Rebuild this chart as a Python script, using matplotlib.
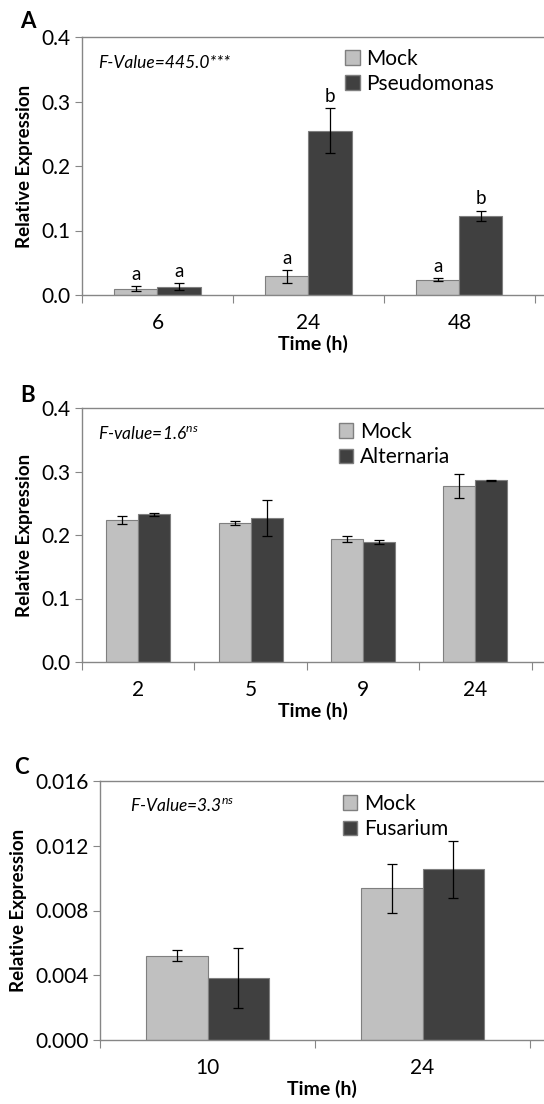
import numpy as np
from matplotlib import pyplot as plt
from matplotlib.patches import Patch

plt.rcParams['font.family'] = ['Lato', 'DejaVu Sans']
plt.rcParams['mathtext.fontset'] = 'custom'
plt.rcParams['mathtext.it'] = 'Lato:italic'
plt.rcParams['mathtext.rm'] = 'Lato'

# panel A - Pseudomonas
times_a = ['6', '24', '48']
mock_a = [0.0098, 0.029, 0.0237]
mock_a_err = [0.004, 0.010, 0.0025]
pseudo_a = [0.013, 0.255, 0.1227]
pseudo_a_err = [0.005, 0.035, 0.008]
letters_mock_a = ['a', 'a', 'a']
letters_pseudo_a = ['a', 'b', 'b']

# panel B - Alternaria
times_b = ['2', '5', '9', '24']
mock_b = [0.2236, 0.2184, 0.1937, 0.2766]
mock_b_err = [0.0058, 0.003, 0.0045, 0.019]
alt_b = [0.2325, 0.2268, 0.1885, 0.286]
alt_b_err = [0.0026, 0.029, 0.0034, 0.0005]

# panel C - Fusarium
times_c = ['10', '24']
mock_c = [0.00522, 0.00937]
mock_c_err = [0.00033, 0.00152]
fus_c = [0.00382, 0.01054]
fus_c_err = [0.00186, 0.00178]

LIGHT = '#c0c0c0'
DARK = '#404040'
EDGE = '#7f7f7f'
SPINE = '#868686'

W, H = 544, 1104
fig = plt.figure(figsize=(W / 100, H / 100), dpi=100)


def px_axes(left, top, right, bottom):
    return fig.add_axes([left / W, 1 - bottom / H, (right - left) / W, (bottom - top) / H])


def panel(ax, labels, mock, mock_err, trt, trt_err, trt_name, ymax, yticks, yfmt,
          xright, ftext, fpos, legpos):
    x = np.arange(len(labels))
    w = 0.285
    ax.bar(x - w / 2, mock, w, color=LIGHT, edgecolor=EDGE, linewidth=0.8, zorder=2)
    ax.bar(x + w / 2, trt, w, color=DARK, edgecolor=EDGE, linewidth=0.8, zorder=2)
    ax.errorbar(x - w / 2, mock, yerr=mock_err, fmt='none', ecolor='black',
                elinewidth=0.9, capsize=3.5, capthick=0.9, zorder=3)
    ax.errorbar(x + w / 2, trt, yerr=trt_err, fmt='none', ecolor='black',
                elinewidth=0.9, capsize=3.5, capthick=0.9, zorder=3)
    ax.set_xlim(-0.5, xright)
    ax.set_ylim(0, ymax)
    ax.set_yticks(yticks)
    ax.set_yticklabels([yfmt.format(v) for v in yticks], fontsize=15)
    ax.set_xticks(np.arange(len(labels) + 1) - 0.5)
    ax.set_xticklabels([])
    ax.set_xticks(x, minor=True)
    ax.set_xticklabels(labels, minor=True, fontsize=15)
    ax.tick_params(axis='x', which='major', length=6, direction='out', color=SPINE)
    ax.tick_params(axis='x', which='minor', length=0, pad=13)
    ax.tick_params(axis='y', length=5, direction='out', color=SPINE, pad=3)
    for s in ['left', 'bottom', 'top']:
        ax.spines[s].set_color(SPINE)
        ax.spines[s].set_linewidth(1.0)
    ax.spines['right'].set_visible(False)
    ax.set_xlabel('Time (h)', fontsize=14, fontweight='bold', labelpad=1)
    ax.set_ylabel('Relative Expression', fontsize=13.5, fontweight='bold', labelpad=6)
    ax.text(fpos[0], fpos[1], ftext, transform=ax.transAxes, fontsize=12.5,
            style='italic', va='center', ha='left')
    handles = [Patch(facecolor=LIGHT, edgecolor=EDGE), Patch(facecolor=DARK, edgecolor=EDGE)]
    ax.legend(handles, ['Mock', trt_name], loc='upper left', bbox_to_anchor=legpos,
              frameon=False, fontsize=15, handlelength=0.7, handleheight=0.7,
              handletextpad=0.3, labelspacing=0.25, borderpad=0, borderaxespad=0)
    return x, w


# A
axA = px_axes(82, 37, 544, 295)
x, w = panel(axA, times_a, mock_a, mock_a_err, pseudo_a, pseudo_a_err, 'Pseudomonas',
             0.4, [0.0, 0.1, 0.2, 0.3, 0.4], '{:.1f}', 2.56,
             'F-Value=445.0***', (0.035, 0.90), (0.57, 0.955))
for i in range(len(times_a)):
    axA.text(x[i] - w / 2, mock_a[i] + mock_a_err[i] + 0.005, letters_mock_a[i],
             ha='center', va='bottom', fontsize=13.5)
    axA.text(x[i] + w / 2, pseudo_a[i] + pseudo_a_err[i] + 0.005, letters_pseudo_a[i],
             ha='center', va='bottom', fontsize=13.5)

# B
axB = px_axes(82, 408, 544, 662)
panel(axB, times_b, mock_b, mock_b_err, alt_b, alt_b_err, 'Alternaria',
      0.4, [0.0, 0.1, 0.2, 0.3, 0.4], '{:.1f}', 3.61,
      'F-value=1.6$^{ns}$', (0.035, 0.90), (0.556, 0.945))

# C
axC = px_axes(100, 781, 544, 1040)
panel(axC, times_c, mock_c, mock_c_err, fus_c, fus_c_err, 'Fusarium',
      0.016, [0.0, 0.004, 0.008, 0.012, 0.016], '{:.3f}', 1.565,
      'F-Value=3.3$^{ns}$', (0.068, 0.907), (0.547, 0.95))

fig.text(20 / W, 1 - 22 / H, 'A', fontsize=16, fontweight='bold', ha='left', va='center')
fig.text(20 / W, 1 - 395 / H, 'B', fontsize=16, fontweight='bold', ha='left', va='center')
fig.text(14 / W, 1 - 767 / H, 'C', fontsize=16, fontweight='bold', ha='left', va='center')

plt.savefig('out.png', dpi=100)
